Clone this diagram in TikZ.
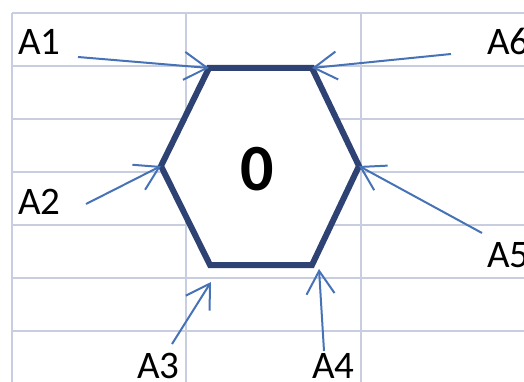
\documentclass[tikz,border=0pt]{standalone}
\usepackage{fontspec}
\setmainfont{Carlito}
\usetikzlibrary{arrows.meta}

\definecolor{gridgray}{HTML}{C8CEDF}
\definecolor{hexblue}{HTML}{2E4374}
\definecolor{pointerblue}{HTML}{4672B6}

\begin{document}
\begin{tikzpicture}[x=1pt,y=-1pt,
  gridline/.style={gridgray,line width=2pt},
  hexline/.style={hexblue,line width=6pt,line join=miter,fill=white},
  pointer/.style={pointerblue,line width=2pt,-{Straight Barb[length=23pt,width=28pt]}},
  lbl/.style={anchor=base west,inner sep=0pt,font=\fontsize{39}{40}\selectfont}]

\useasboundingbox (0,0) rectangle (524,382);

% Grid
\foreach \y in {13,66,119,172,225,278,331}
  \draw[gridline] (12,\y)--(524,\y);
\foreach \x in {12,186,361}
  \draw[gridline] (\x,13)--(\x,382);

% Hexagon corners
\coordinate (v1) at (209,68);
\coordinate (v2) at (312,68);
\coordinate (v3) at (359,166);
\coordinate (v4) at (312,265);
\coordinate (v5) at (210,265);
\coordinate (v6) at (161,166);

% Hexagon
\draw[hexline] (v1)--(v2)--(v3)--(v4)--(v5)--(v6)--cycle;
\node[font=\bfseries\fontsize{66}{66}\selectfont] (zero) at (257.5,169){0};

% Labels
\node[lbl] (a1) at (18,55){A1};
\node[lbl] (a2) at (18,214){A2};
\node[lbl] (a3) at (137,378){A3};
\node[lbl] (a4) at (312,378){A4};
\node[lbl] (a5) at (487,267){A5};
\node[lbl] (a6) at (487,55){A6};

% Arrow tails and tips
\coordinate (t1) at (78,57);
\coordinate (t2) at (86,204);
\coordinate (t3) at (172,344);
\coordinate (t4) at (324,351);
\coordinate (t5) at (482,233);
\coordinate (t6) at (451,54);
\coordinate (p3) at (211,282);
\coordinate (p4) at (319,269);

% Arrows
\draw[pointer] (t1)--(v1);
\draw[pointer] (t6)--(v2);
\draw[pointer] (t2)--(v6);
\draw[pointer] (t5)--(v3);
\draw[pointer] (t3)--(p3);
\draw[pointer] (t4)--(p4);

\end{tikzpicture}
\end{document}
